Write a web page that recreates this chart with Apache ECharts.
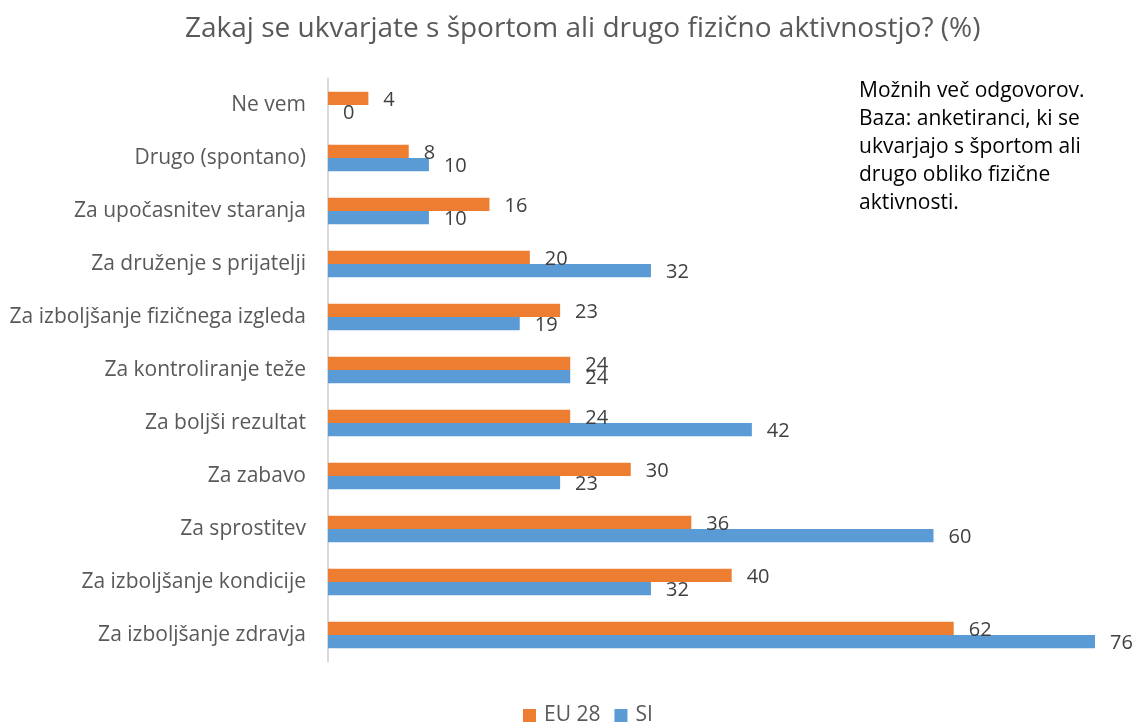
<!DOCTYPE html>
<html>
<head>
<meta charset="utf-8">
<script src="https://cdn.jsdelivr.net/npm/echarts@6/dist/echarts.min.js"></script>
<style>
  html, body { margin: 0; padding: 0; background: #fff; }
  #chart { width: 1137px; height: 722px; }
</style>
</head>
<body>
<div id="chart"></div>
<script>
  // kategorije od zgoraj navzdol
  const categories = [
    'Ne vem',
    'Drugo (spontano)',
    'Za upočasnitev staranja',
    'Za druženje s prijatelji',
    'Za izboljšanje fizičnega izgleda',
    'Za kontroliranje teže',
    'Za boljši rezultat',
    'Za zabavo',
    'Za sprostitev',
    'Za izboljšanje kondicije',
    'Za izboljšanje zdravja'
  ]
  const eu28 = [4, 8, 16, 20, 23, 24, 24, 30, 36, 40, 62]
  const si = [0, 10, 10, 32, 19, 24, 42, 23, 60, 32, 76]

  const font = '"Open Sans", sans-serif'

  const chart = echarts.init(document.getElementById('chart'))
  chart.setOption({
    animation: false,
    title: {
      text: 'Zakaj se ukvarjate s športom ali drugo fizično aktivnostjo? (%)',
      left: 180,
      top: 10,
      textStyle: { fontFamily: font, fontSize: 28, fontWeight: 'normal', color: '#595959' }
    },
    legend: {
      top: 700,
      left: 518,
      itemWidth: 13,
      itemHeight: 13,
      itemGap: 14,
      icon: 'rect',
      textStyle: { fontFamily: font, fontSize: 21, color: '#595959', padding: [0, 0, 0, 3] },
      data: ['EU 28', 'SI']
    },
    graphic: [{
      type: 'text',
      left: 859,
      top: 77,
      style: {
        text: 'Možnih več odgovorov.\nBaza: anketiranci, ki se\nukvarjajo s športom ali\ndrugo obliko fizične\naktivnosti.',
        fontFamily: font,
        fontSize: 21,
        lineHeight: 28,
        fill: '#000'
      }
    }],
    grid: { left: 328, right: 42, top: 78.5, bottom: 60.5, containLabel: false },
    xAxis: {
      type: 'value',
      min: 0,
      max: 76,
      show: false
    },
    yAxis: {
      type: 'category',
      inverse: true,
      data: categories,
      axisTick: { show: false },
      axisLine: { show: true, lineStyle: { color: '#d9d9d9', width: 2 } },
      axisLabel: { fontFamily: font, fontSize: 21, color: '#595959', margin: 22 }
    },
    series: [
      {
        name: 'EU 28',
        type: 'bar',
        data: eu28,
        barWidth: 13.3,
        barGap: '0%',
        itemStyle: { color: '#ED7D31' },
        label: {
          show: true, position: 'right', distance: 15, offset: [0, 2],
          fontFamily: font, fontSize: 20, color: '#404040'
        }
      },
      {
        name: 'SI',
        type: 'bar',
        data: si,
        barWidth: 13.3,
        barGap: '0%',
        itemStyle: { color: '#5B9BD5' },
        label: {
          show: true, position: 'right', distance: 15, offset: [0, 2],
          fontFamily: font, fontSize: 20, color: '#404040'
        }
      }
    ]
  })
</script>
</body>
</html>
